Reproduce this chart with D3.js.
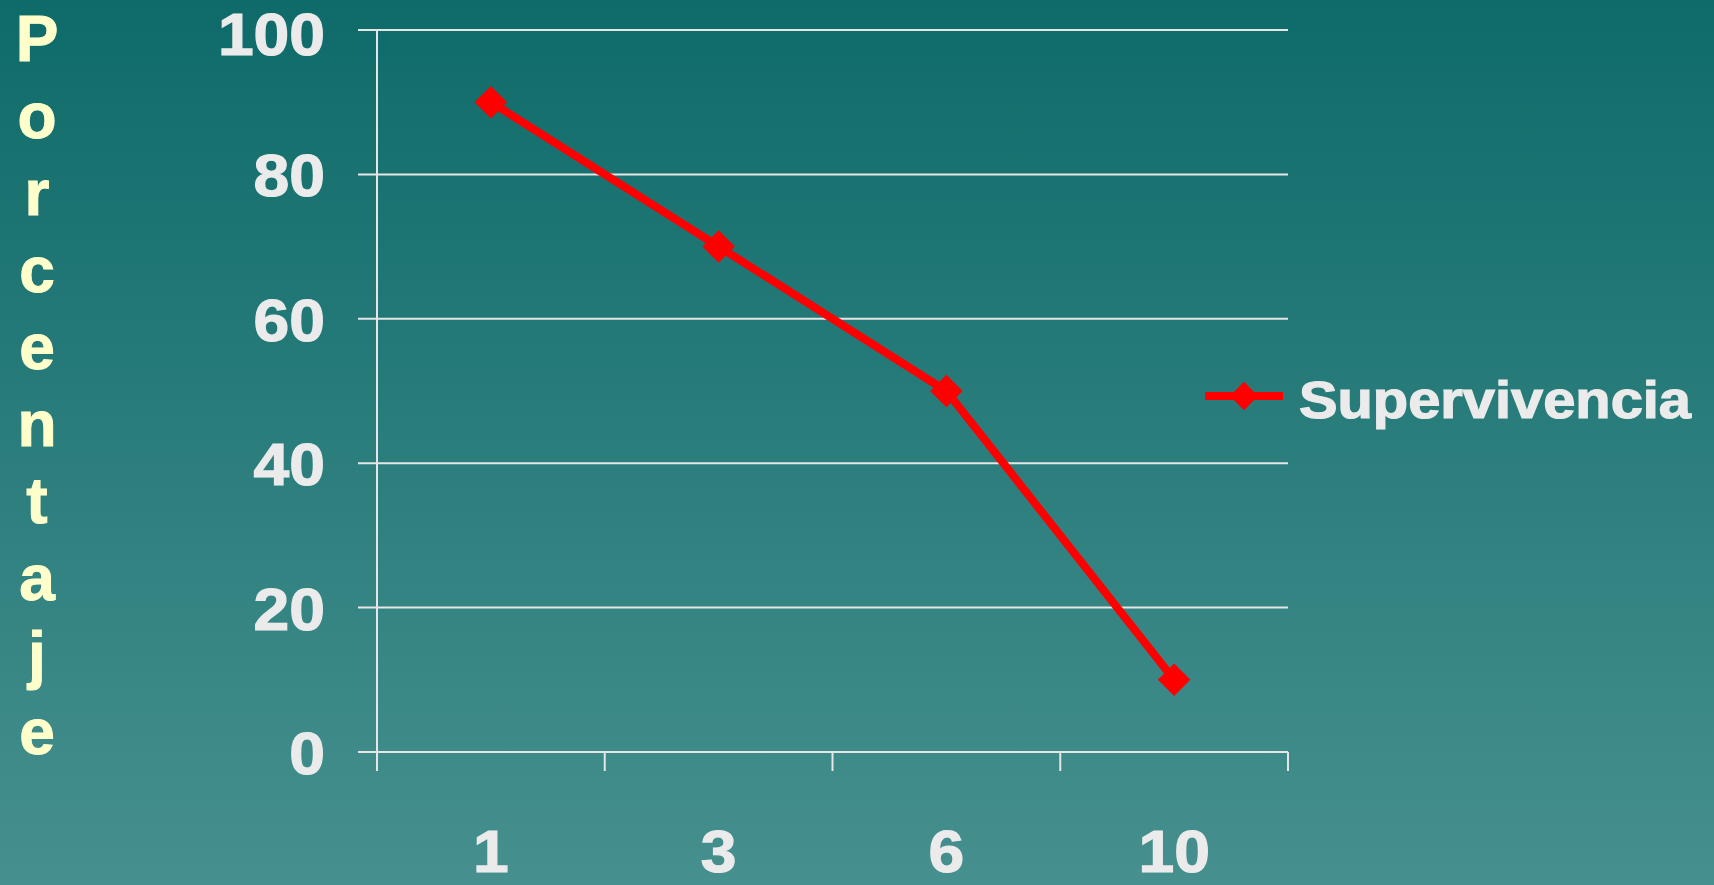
<!DOCTYPE html>
<html lang="es">
<head>
    <meta charset="UTF-8">
    <title>Supervivencia</title>
    <script src="https://d3js.org/d3.v7.min.js"></script>
    <style>
        body { margin: 0; overflow: hidden; }
        text { font-family: "Liberation Sans", Arial, sans-serif; font-weight: bold; }
        .tick-label { fill: #ebebeb; stroke: #ebebeb; stroke-width: 1.2; font-size: 60px; }
        .ytitle { fill: #ffffcc; stroke: #ffffcc; stroke-width: 1; font-size: 64px; }
        .grid { stroke: #e6e6e6; stroke-width: 2; }
        .serie { fill: none; stroke: #ff0000; stroke-width: 8; }
    </style>
</head>
<body>
    <div id="chart"></div>
    <script>
        const width = 1714, height = 885;
        const margin = { top: 30, right: 426, bottom: 133, left: 377 };

        // datos
        const categories = ["1", "3", "6", "10"];
        const values = [90, 70, 50, 10];
        const yTicks = [0, 20, 40, 60, 80, 100];
        const seriesName = "Supervivencia";
        const yTitle = "Porcentaje";

        const svg = d3.select("#chart")
            .append("svg")
            .attr("width", width)
            .attr("height", height);

        // fondo degradado
        const grad = svg.append("defs").append("linearGradient")
            .attr("id", "bg")
            .attr("x1", 0).attr("y1", 0).attr("x2", 0).attr("y2", 1);
        grad.append("stop").attr("offset", "0%").attr("stop-color", "#0e6b69");
        grad.append("stop").attr("offset", "100%").attr("stop-color", "#46908f");
        svg.append("rect").attr("width", width).attr("height", height).attr("fill", "url(#bg)");

        const x = d3.scaleBand().domain(categories).range([margin.left, width - margin.right]);
        const y = d3.scaleLinear().domain([0, 100]).range([height - margin.bottom, margin.top]);

        const tick = 19;
        const stretch = 1.07; // el original tiene letras algo mas anchas

        // lineas horizontales
        svg.append("g").selectAll("line")
            .data(yTicks)
            .join("line")
            .attr("class", "grid")
            .attr("x1", margin.left - tick)
            .attr("x2", width - margin.right)
            .attr("y1", d => y(d))
            .attr("y2", d => y(d));

        // eje vertical
        svg.append("line")
            .attr("class", "grid")
            .attr("x1", margin.left).attr("x2", margin.left)
            .attr("y1", y(100)).attr("y2", y(0) + tick);

        // marcas del eje x
        const bounds = categories.map(c => x(c)).concat([x.range()[1]]);
        svg.append("g").selectAll("line")
            .data(bounds.slice(1))
            .join("line")
            .attr("class", "grid")
            .attr("x1", d => d).attr("x2", d => d)
            .attr("y1", y(0)).attr("y2", y(0) + tick);

        // etiquetas eje y
        svg.append("g").selectAll("text")
            .data(yTicks)
            .join("text")
            .attr("class", "tick-label")
            .attr("transform", d => `translate(325,${Math.max(y(d) + 22, 55)}) scale(${stretch},1)`)
            .attr("text-anchor", "end")
            .text(d => d);

        // etiquetas eje x
        svg.append("g").selectAll("text")
            .data(categories)
            .join("text")
            .attr("class", "tick-label")
            .attr("transform", d => `translate(${x(d) + x.bandwidth() / 2},872) scale(${stretch},1)`)
            .attr("text-anchor", "middle")
            .text(d => d);

        // titulo vertical, letra por letra
        svg.append("g").selectAll("text")
            .data(yTitle.split(""))
            .join("text")
            .attr("class", "ytitle")
            .attr("x", 37)
            .attr("y", (d, i) => 61 + i * 77)
            .attr("text-anchor", "middle")
            .text(d => d);

        // serie
        const pts = categories.map((c, i) => [x(c) + x.bandwidth() / 2, y(values[i])]);
        svg.append("path")
            .attr("class", "serie")
            .attr("d", d3.line()(pts));

        const diamond = d3.symbol().type(d3.symbolSquare).size(23 * 23);
        svg.append("g").selectAll("path")
            .data(pts)
            .join("path")
            .attr("d", diamond)
            .attr("fill", "#ff0000")
            .attr("transform", d => `translate(${d[0]},${d[1]}) rotate(45)`);

        // leyenda
        const lg = svg.append("g").attr("transform", "translate(1205,396)");
        lg.append("line")
            .attr("class", "serie")
            .attr("x1", 0).attr("x2", 78).attr("y1", 0).attr("y2", 0);
        lg.append("path")
            .attr("d", d3.symbol().type(d3.symbolSquare).size(20 * 20))
            .attr("fill", "#ff0000")
            .attr("transform", "translate(39,0) rotate(45)");
        lg.append("text")
            .attr("class", "tick-label")
            .attr("x", 94)
            .attr("y", 22)
            .style("font-size", "51px")
            .attr("textLength", 392)
            .attr("lengthAdjust", "spacingAndGlyphs")
            .text(seriesName);
    </script>
</body>
</html>
